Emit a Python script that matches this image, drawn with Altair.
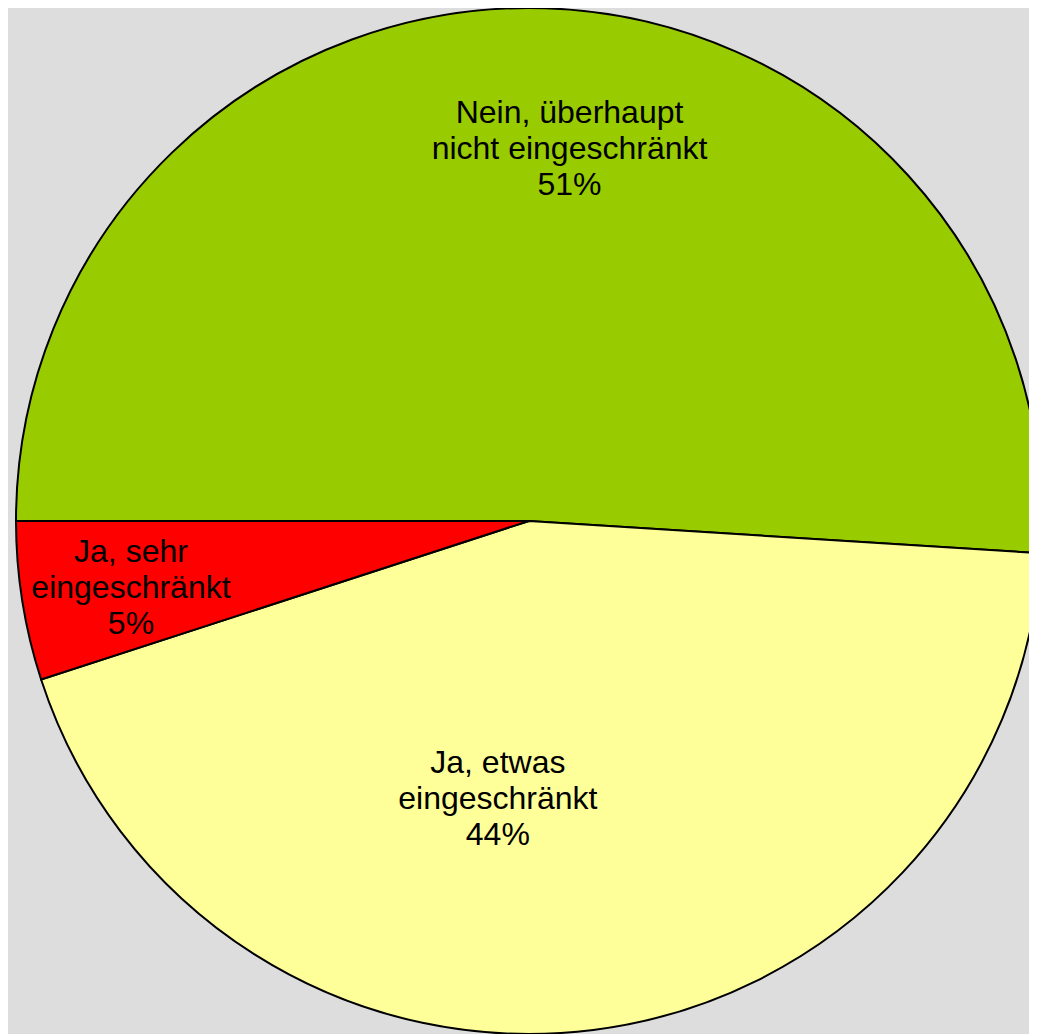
import math
import altair as alt
import pandas as pd

# Data
keys = ["nein", "etwas", "sehr"]
labels = ["Nein, überhaupt\nnicht eingeschränkt", "Ja, etwas\neingeschränkt", "Ja, sehr\neingeschränkt"]
values = [51, 44, 5]
colors = ["#99CC00", "#FFFF99", "#FF0000"]

df = pd.DataFrame({"key": keys, "label": labels, "value": values, "i": list(range(len(keys)))})

theta_scale = alt.Scale(range=[1.5 * math.pi, 3.5 * math.pi])
color_scale = alt.Scale(domain=keys, range=colors)

base = alt.Chart(df)

arcs = base.mark_arc(radius=513, stroke="black", strokeWidth=2).encode(
    theta=alt.Theta("value:Q", stack=True, scale=theta_scale),
    color=alt.Color("key:N", scale=color_scale, legend=None),
    order=alt.Order("i:Q"),
)

label_base = base.transform_window(
    cum="sum(value)", sort=[alt.SortField(field="i", order="ascending")], frame=[None, 0]
).transform_calculate(
    mid="datum.cum - datum.value / 2",
    txt="datum.label + '\\n' + datum.value + '%'",
)


def label(key, r, dx, dy):
    return label_base.transform_filter(alt.datum.key == key).mark_text(
        radius=r, dx=dx, dy=dy, fontSize=32, lineHeight=36, font="Liberation Sans",
        color="black", lineBreak="\n", align="center", baseline="alphabetic",
    ).encode(
        theta=alt.Theta("mid:Q", stack=False, scale=theta_scale),
        text="txt:N",
    )


chart = alt.layer(
    arcs,
    label("nein", 398, 28, 0),
    label("etwas", 254, -63, 0),
    label("sehr", 403, 0, -22),
).properties(
    width=1000,
    height=1026,
    padding={"left": 21, "top": 0, "right": 0, "bottom": 0},
    autosize=alt.AutoSizeParams(type="none"),
    background="#DDDDDD",
).configure_view(stroke="transparent")

chart.save("out.html", embed_options={"renderer": "svg", "actions": False})
